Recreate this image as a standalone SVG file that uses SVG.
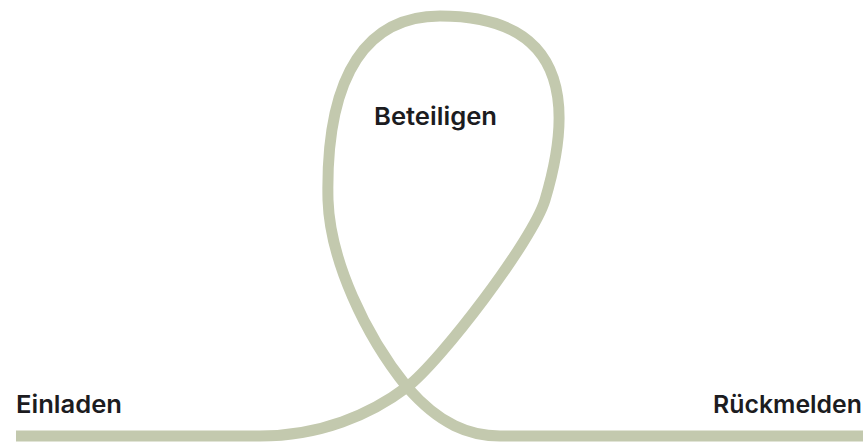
<svg xmlns="http://www.w3.org/2000/svg" width="863" height="442" viewBox="0 0 863 442">
  <style>
    .lbl { font-family: Inter, "Noto Sans", "Liberation Sans", sans-serif; font-weight: 600; font-size: 24.5px; fill: #1c1c1f; }
    .loop { fill: none; stroke: #c3c9ae; stroke-width: 11; stroke-linecap: butt; stroke-linejoin: round; }
  </style>
  <rect width="863" height="442" fill="#ffffff"/>
  <g id="connectors">
    <path class="loop" d="M 16 436 L 260 436 C 320 436 370 415 407 387 C 440 362 533 240 545 200 C 569 120 578 16 440 16 C 370 16 325 70 328 200 C 330 260 365 335 407 387 C 440 425 470 436 500 436 L 863 436"/>
  </g>
  <g id="node-einladen">
    <text class="lbl" x="16" y="413" textLength="106" lengthAdjust="spacingAndGlyphs">Einladen</text>
  </g>
  <g id="node-beteiligen">
    <text class="lbl" x="374" y="125" textLength="123" lengthAdjust="spacingAndGlyphs">Beteiligen</text>
  </g>
  <g id="node-rueckmelden">
    <text class="lbl" x="713" y="413" textLength="149" lengthAdjust="spacingAndGlyphs">Rückmelden</text>
  </g>
</svg>
